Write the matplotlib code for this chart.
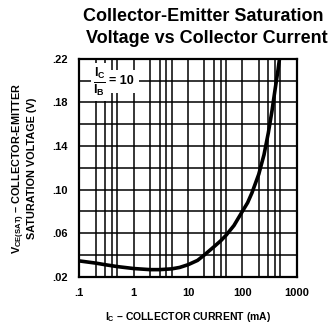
import matplotlib
matplotlib.use("Agg")
import matplotlib.pyplot as plt

# collector current (mA) and Vce(sat) (V)
ic_ma = [0.1, 0.2, 0.3, 0.5, 1, 2, 3, 5, 7, 10, 15, 20, 30, 40, 50, 70,
         100, 125, 150, 200, 250, 300, 350, 400, 450, 482]
vce_sat = [0.0345, 0.0325, 0.031, 0.0293, 0.0275, 0.0265, 0.0265, 0.0272,
           0.0285, 0.031, 0.035, 0.040, 0.0475, 0.053, 0.058, 0.067,
           0.080, 0.088, 0.097, 0.114, 0.132, 0.152, 0.172, 0.192, 0.209, 0.220]

x_ticks = [0.1, 1, 10, 100, 1000]
x_labels = [".1", "1", "10", "100", "1000"]
y_ticks = [0.02, 0.06, 0.10, 0.14, 0.18, 0.22]
y_labels = [".02", ".06", ".10", ".14", ".18", ".22"]
y_grid = [0.04, 0.06, 0.08, 0.10, 0.12, 0.14, 0.16, 0.18, 0.20]
x_grid = [m * d for d in [0.1, 1, 10, 100] for m in [1, 2, 3, 4, 5]][1:]

plt.rcParams['font.family'] = ['Liberation Sans', 'DejaVu Sans']
plt.rcParams['font.weight'] = 'bold'
plt.rcParams['axes.labelweight'] = 'bold'
plt.rcParams['mathtext.fontset'] = 'custom'
plt.rcParams['mathtext.rm'] = 'Liberation Sans:bold'
plt.rcParams['mathtext.it'] = 'Liberation Sans:bold'
plt.rcParams['mathtext.bf'] = 'Liberation Sans:bold'

fig = plt.figure(figsize=(3.34, 3.27), dpi=100)
ax = fig.add_axes([0.2374, 0.1538, 0.651, 0.666])

for g in y_grid:
    ax.axhline(g, color='black', lw=1.1, zorder=1)
for g in x_grid:
    ax.axvline(g, color='black', lw=1.1, zorder=1)

ax.plot(ic_ma, vce_sat, color='black', lw=2.6, zorder=4, solid_capstyle='butt')

ax.set_xscale('log')
ax.set_xlim(0.1, 1000)
ax.set_ylim(0.02, 0.22)
ax.set_xticks(x_ticks)
ax.set_xticklabels(x_labels)
ax.set_yticks(y_ticks)
ax.set_yticklabels(y_labels)
ax.minorticks_off()
ax.tick_params(length=0, labelsize=8, pad=8)
for s in ax.spines.values():
    s.set_linewidth(1.6)

# Ic/Ib = 10 note, stacked by hand so the bar shows
ax.text(0.35, 0.1995, '= 10', fontsize=9, va='center', ha='left',
        zorder=3, bbox=dict(facecolor='white', edgecolor='none', pad=4))
ax.text(0.235, 0.1985, 'I$_C$\n$\\overline{I_B}$', fontsize=9, va='center', ha='center',
        linespacing=0.95, zorder=3.5, bbox=dict(facecolor='white', edgecolor='none', pad=2))

ax.set_xlabel(r'I$_\mathregular{C}$ – COLLECTOR CURRENT (mA)', fontsize=7.5, labelpad=9)
ax.set_ylabel('V$_\\mathregular{CE(SAT)}$ – COLLECTOR-EMITTER\nSATURATION VOLTAGE (V)',
              fontsize=7.8, labelpad=11, linespacing=1.05)

fig.text(0.608, 0.9367, 'Collector-Emitter Saturation', fontsize=13, fontweight='bold',
         ha='center', va='baseline')
fig.text(0.62, 0.8694, 'Voltage vs Collector Current', fontsize=13, fontweight='bold',
         ha='center', va='baseline')

fig.savefig('out.png', dpi=100)
